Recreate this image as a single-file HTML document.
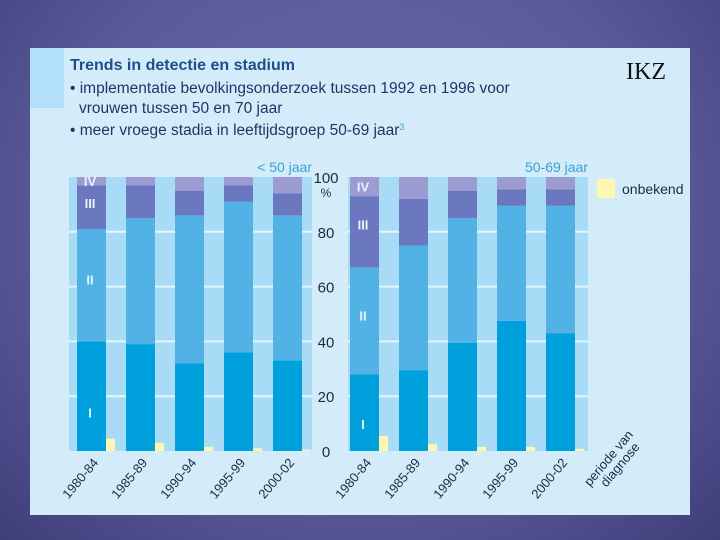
<!DOCTYPE html>
<html><head><meta charset="utf-8"><style>
body{margin:0;width:720px;height:540px;overflow:hidden;background:radial-gradient(ellipse at 50% 40%,#6a6aa8 0%,#5a5a9a 60%,#3e3e7a 100%);font-family:"Liberation Sans",sans-serif}
svg{position:absolute;left:0;top:0}
</style></head><body>
<svg width="720" height="540">
<rect x="30" y="48" width="660" height="467" fill="#d4ecf9"/>
<rect x="30" y="48" width="34" height="60" fill="#b2e0f8"/>
<text x="626" y="79" font-family="Liberation Serif" font-size="24" fill="#111">IKZ</text>
<text x="70" y="70" font-size="16" font-weight="bold" fill="#1d4f8c">Trends in detectie en stadium</text>
<g font-size="15.5" fill="#1e3566">
<text x="70" y="93">• implementatie bevolkingsonderzoek tussen 1992 en 1996 voor</text>
<text x="79" y="113">vrouwen tussen 50 en 70 jaar</text>
<text x="70" y="135">• meer vroege stadia in leeftijdsgroep 50-69 jaar<tspan font-size="9" fill="#3aa0d8" dy="-5">3</tspan></text>
</g>
<g id="plot"></g>
</svg>
<script>
const cats=["1980-84","1985-89","1990-94","1995-99","2000-02"];
const leftI=[40,39,32,36,33];
const leftII=[41,46,54,55,53];
const leftIII=[16,12,9,6,8];
const leftIV=[3,3,5,3,6];
const leftUnk=[4.5,3,1.5,1,0.5];
const rightI=[28,29.5,39.5,47.5,43];
const rightII=[39,45.5,45.5,42,46.5];
const rightIII=[26,17,10,6,6];
const rightIV=[7,8,5,4.5,4.5];
const rightUnk=[5.5,2.5,1.5,1.5,0.8];
const yTicks=[0,20,40,60,80,100];
const NS="http://www.w3.org/2000/svg";
const g=document.getElementById('plot');
const y0=451,y100=177;
function Y(v){return y0-(y0-y100)*v/100;}
const cols=["#00a0dc","#52b2e6","#6b78c0","#9c9cd2"];
function el(t,a,p){const e=document.createElementNS(NS,t);for(const k in a)e.setAttribute(k,a[k]);(p||g).appendChild(e);return e;}
function panel(x0,x1,barX0,series,unk,name){
  const band=el('rect',{x:x0,y:Y(100),width:x1-x0,height:y0-Y(100),fill:'#a8dbf5'});
  
  
  yTicks.forEach(t=>{if(t>0&&t<100){const l=el('line',{x1:x0,x2:x1,y1:Y(t),y2:Y(t),stroke:'#e6f6ff','stroke-width':2});
    
    }});
  cats.forEach((c,i)=>{
    const bx=barX0+i*49;let cum=0;
    series.forEach((s,k)=>{
      const r=el('rect',{x:bx,y:Y(cum+s[i]),width:29,height:Y(cum)-Y(cum+s[i]),fill:cols[k]});
      
      
      cum+=s[i];
    });
    const u=el('rect',{x:bx+29,y:Y(unk[i]),width:9,height:y0-Y(unk[i]),fill:'#fff6b0'});
    
    
    const tx=bx+22,ty=y0+12;
    const t=el('text',{x:tx,y:ty,'font-size':13,fill:'#1e2a44','text-anchor':'end',transform:`rotate(-50 ${tx} ${ty})`});
    t.textContent=c;
    
    
  });
  const labs=["I","II","III","IV"],lv=[series[0][0]*0.35,series[0][0]+series[1][0]*0.55,series[0][0]+series[1][0]+series[2][0]*0.6,100-series[3][0]/2];
  labs.forEach((l,k)=>{const t=el('text',{x:barX0+13,y:Y(lv[k])+5,'font-size':13,'font-weight':'bold',fill:'#e8f4ff','text-anchor':'middle'});t.textContent=l;
    
    });
}
panel(69,312,77,[leftI,leftII,leftIII,leftIV],leftUnk,'left');
panel(348,588,350,[rightI,rightII,rightIII,rightIV],rightUnk,'right');
yTicks.forEach(t=>{const e=el('text',{x:326,y:Y(t)+6,'font-size':15,fill:'#1e2a44','text-anchor':'middle'});e.textContent=t;
  
  });
const pc=el('text',{x:326,y:Y(100)+20,'font-size':12,fill:'#1e2a44','text-anchor':'middle'});pc.textContent='%';


const h1=el('text',{x:312,y:172,'font-size':14,fill:'#3aa0d8','text-anchor':'end'});h1.textContent='< 50 jaar';


const h2=el('text',{x:588,y:172,'font-size':14,fill:'#3aa0d8','text-anchor':'end'});h2.textContent='50-69 jaar';


const lr=el('rect',{x:597,y:179,width:18,height:19,fill:'#fff6b0'});


const lt=el('text',{x:622,y:194,'font-size':14,fill:'#1e2a44'});lt.textContent='onbekend';


const xt=el('text',{x:0,y:0,'font-size':13,fill:'#1e2a44',transform:'translate(590 487) rotate(-50)'});


xt.innerHTML='<tspan x="0" dy="0">periode van</tspan><tspan x="10" dy="13">diagnose</tspan>';
</script>
</body></html>
